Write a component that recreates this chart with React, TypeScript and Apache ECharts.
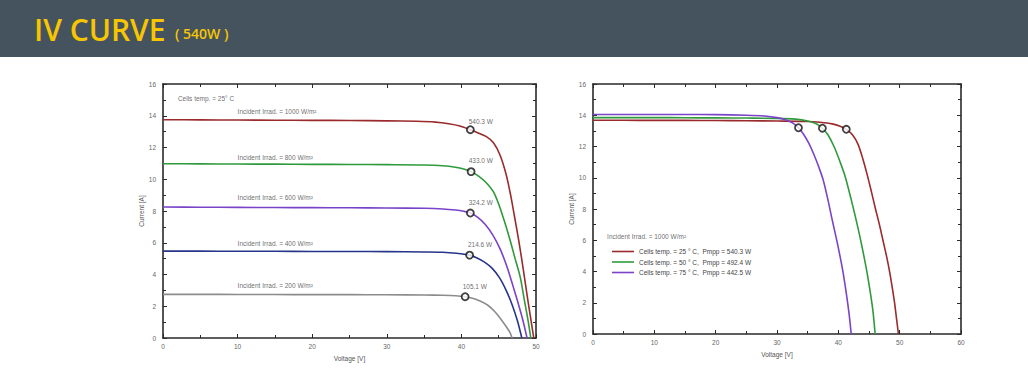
import React, { useEffect, useRef } from "react";
import * as echarts from "echarts";

// ---------- Left chart: Cells temp = 25 °C, varying irradiance ----------
const irr1000: number[][] = [
  [0, 13.75], [5, 13.74], [10, 13.73], [15, 13.72], [20, 13.71], [25, 13.7], [30, 13.68],
  [34, 13.65], [36.5, 13.6], [38.3, 13.5], [39.8, 13.36], [41.2, 13.12], [42.1, 12.95],
  [43.3, 12.7], [44.3, 12.3], [45.2, 11.5], [46.0, 10.3], [46.6, 9.0], [47.1, 7.7],
  [47.7, 6.1], [48.3, 4.3], [48.9, 2.4], [49.3, 1.2], [49.7, 0],
];
const irr800: number[][] = [
  [0, 10.98], [5, 10.97], [10, 10.96], [15, 10.95], [20, 10.94], [25, 10.93], [30, 10.92],
  [35, 10.9], [37.5, 10.85], [39.2, 10.76], [40.3, 10.65], [41.3, 10.48], [42.3, 10.2],
  [43.3, 9.8], [44.3, 9.2], [45.1, 8.3], [45.8, 7.3], [46.5, 6.2], [47.2, 5.0],
  [47.9, 3.8], [48.4, 2.5], [48.9, 1.2], [49.3, 0],
];
const irr600: number[][] = [
  [0, 8.25], [5, 8.24], [10, 8.23], [15, 8.22], [20, 8.21], [25, 8.2], [30, 8.19],
  [35, 8.17], [37.5, 8.13], [39.2, 8.06], [40.3, 7.98], [41.2, 7.87], [42.2, 7.6],
  [43.2, 7.15], [44.2, 6.5], [45.2, 5.6], [46.1, 4.5], [46.9, 3.3], [47.6, 2.2],
  [48.2, 1.2], [48.8, 0],
];
const irr400: number[][] = [
  [0, 5.47], [5, 5.47], [10, 5.46], [15, 5.46], [20, 5.45], [25, 5.45], [30, 5.44],
  [35, 5.42], [37.5, 5.4], [39.3, 5.34], [41.1, 5.22], [42.1, 5.04], [43.1, 4.78],
  [44.1, 4.4], [45.1, 3.8], [46.0, 3.0], [46.8, 2.1], [47.5, 1.1], [48.1, 0],
];
const irr200: number[][] = [
  [0, 2.75], [5, 2.75], [10, 2.74], [15, 2.74], [20, 2.73], [25, 2.73], [30, 2.72],
  [35, 2.71], [37.5, 2.69], [39.2, 2.66], [40.5, 2.6], [41.5, 2.5], [42.5, 2.33],
  [43.5, 2.08], [44.4, 1.7], [45.2, 1.25], [46.0, 0.72], [46.5, 0.35], [46.8, 0],
];
const leftMppPoints: number[][] = [
  [41.2, 13.12], [41.3, 10.48], [41.2, 7.87], [41.1, 5.22], [40.5, 2.6],
];
const leftPowerLabels: string[] = ["540.3 W", "433.0 W", "324.2 W", "214.6 W", "105.1 W"];
const leftPowerLabelPos: number[][] = [
  [42.6, 13.62], [42.6, 11.15], [42.6, 8.52], [42.5, 5.88], [41.8, 3.22],
];
const leftIrrLabels: string[] = [
  "Incident Irrad. = 1000 W/m²", "Incident Irrad. = 800 W/m²", "Incident Irrad. = 600 W/m²",
  "Incident Irrad. = 400 W/m²", "Incident Irrad. = 200 W/m²",
];
const leftIrrLabelPos: number[][] = [
  [10.0, 14.24], [10.0, 11.34], [10.0, 8.82], [10.0, 5.98], [10.0, 3.28],
];
const leftTempLabel = "Cells temp. = 25° C";
const leftTempLabelPos: number[] = [2.0, 15.1];

// ---------- Right chart: Irradiance 1000 W/m², varying temperature ----------
const temp25: number[][] = [
  [0, 13.68], [5, 13.68], [10, 13.67], [15, 13.67], [20, 13.66], [25, 13.65], [30, 13.63],
  [35, 13.6], [37, 13.55], [39, 13.45], [40.3, 13.3], [41.3, 13.1], [42.3, 12.75],
  [43.2, 12.15], [44.0, 11.2], [44.7, 10.2], [45.4, 9.1], [46.0, 8.1], [46.7, 7.0],
  [47.3, 5.95], [47.9, 4.9], [48.4, 3.9], [48.8, 2.95], [49.15, 2.05], [49.45, 1.1], [49.8, 0],
];
const temp50: number[][] = [
  [0, 13.85], [5, 13.85], [10, 13.85], [15, 13.84], [20, 13.83], [25, 13.82], [30, 13.8],
  [33, 13.75], [35, 13.63], [36.4, 13.45], [37.4, 13.17], [38.3, 12.75], [39.3, 12.0],
  [40.2, 11.1], [41.1, 10.1], [42.1, 8.6], [42.9, 7.3], [43.8, 5.7], [44.6, 4.1],
  [45.2, 2.7], [45.65, 1.45], [46.0, 0],
];
const temp75: number[][] = [
  [0, 14.05], [5, 14.05], [10, 14.05], [15, 14.05], [20, 14.04], [25, 14.0], [28, 13.95],
  [30, 13.85], [31.5, 13.7], [32.6, 13.5], [33.5, 13.2], [34.3, 12.8], [35.2, 12.2],
  [36.0, 11.5], [36.8, 10.7], [37.5, 9.9], [38.3, 8.6], [39.0, 7.3], [39.9, 5.7],
  [40.7, 4.1], [41.3, 2.6], [41.75, 1.3], [42.1, 0],
];
const rightMppPoints: number[][] = [[41.3, 13.1], [37.4, 13.17], [33.5, 13.2]];
const rightSeriesNames: string[] = [
  "Cells temp. = 25 ° C,  Pmpp = 540.3 W",
  "Cells temp. = 50 ° C,  Pmpp = 492.4 W",
  "Cells temp. = 75 ° C,  Pmpp = 442.5 W",
];
const rightIrrLabel = "Incident Irrad. = 1000 W/m²";
const rightIrrLabelPos: number[] = [2.3, 6.27];

const titleMain = "IV CURVE";
const titleSub = "( 540W )";

const C_RED = "#9a2a2c";
const C_GREEN = "#2f9a3c";
const C_PURPLE = "#7a44c8";
const C_BLUE = "#27358a";
const C_GRAY = "#8c8c8c";
const AX = "#2a2a2a";
const FONT = "Liberation Sans";
const SMALL = 6.5;

function axisPair(gridIndex: number, max: number, kind: "x" | "y", name: string, nameGap: number) {
  const common = {
    gridIndex,
    type: "value",
    min: 0,
    max,
    interval: kind === "x" ? 10 : 2,
    splitLine: { show: false },
    axisLine: { show: true, onZero: false, lineStyle: { color: AX, width: 1.6 } },
    axisTick: { show: true, inside: true, length: 4, lineStyle: { color: AX, width: 1 } },
    minorTick: { show: true, splitNumber: 2, length: 3, lineStyle: { color: AX, width: 1 } },
  };
  const main = {
    ...common,
    position: kind === "x" ? "bottom" : "left",
    axisLabel: { fontSize: SMALL, color: "#666", fontFamily: FONT, margin: kind === "x" ? 5 : 7 },
    name,
    nameLocation: "middle",
    nameGap,
    nameTextStyle: { fontSize: SMALL, color: "#555", fontFamily: FONT },
  };
  const mirror = {
    ...common,
    position: kind === "x" ? "top" : "right",
    axisLabel: { show: false },
  };
  return [main, mirror];
}

function lineSeries(name: string, data: number[][], color: string, xi: number, yi: number) {
  return {
    type: "line",
    name,
    data,
    xAxisIndex: xi,
    yAxisIndex: yi,
    smooth: 0.3,
    symbol: "none",
    showSymbol: false,
    lineStyle: { color, width: 1.6 },
    itemStyle: { color },
    z: 3,
  };
}

function textSeries(items: { name: string; value: number[] }[], xi: number, yi: number, align: string) {
  return {
    type: "scatter",
    xAxisIndex: xi,
    yAxisIndex: yi,
    symbolSize: 0,
    silent: true,
    data: items,
    label: {
      show: true,
      position: "inside",
      formatter: "{b}",
      fontSize: SMALL,
      color: "#444",
      fontFamily: FONT,
      align,
      verticalAlign: "middle",
    },
    z: 5,
  };
}

function mppSeries(data: number[][], xi: number, yi: number) {
  return {
    type: "scatter",
    xAxisIndex: xi,
    yAxisIndex: yi,
    data,
    symbol: "circle",
    symbolSize: 7,
    itemStyle: { color: "#ffffff", borderColor: "#111", borderWidth: 1.8 },
    z: 6,
  };
}

export default function App() {
  const ref = useRef<HTMLDivElement>(null);
  useEffect(() => {
    if (!ref.current) return;
    const chart = echarts.init(ref.current, null, { renderer: "svg" });
    const [lx, lx2] = axisPair(0, 50, "x", "Voltage [V]", 14);
    const [ly, ly2] = axisPair(0, 16, "y", "Current [A]", 18);
    const [rx, rx2] = axisPair(1, 60, "x", "Voltage [V]", 14);
    const [ry, ry2] = axisPair(1, 16, "y", "Current [A]", 18);

    const option: any = {
      animation: false,
      backgroundColor: "#ffffff",
      grid: [
        { left: 163, top: 84, width: 373, height: 254 },
        { left: 593, top: 84, width: 368, height: 250 },
      ],
      xAxis: [lx, lx2, rx, rx2],
      yAxis: [ly, ly2, ry, ry2],
      legend: {
        show: true,
        left: 607,
        top: 243,
        orient: "vertical",
        icon: "rect",
        itemWidth: 22,
        itemHeight: 1.6,
        itemGap: 3.5,
        data: rightSeriesNames,
        textStyle: { fontSize: SMALL, color: "#444", fontFamily: FONT },
        selectedMode: false,
      },
      graphic: [
        { type: "rect", shape: { x: 0, y: 0, width: 1028, height: 57 }, style: { fill: "#45535e" } },
        {
          type: "text", x: 34, y: 29,
          style: { text: titleMain, fill: "#f7c600", font: '600 30px "Open Sans"', verticalAlign: "middle" },
        },
        {
          type: "text", x: 175, y: 33,
          style: { text: titleSub, fill: "#f7c600", font: '600 14px "Open Sans"', verticalAlign: "middle" },
        },
      ],
      series: [
        lineSeries("1000", irr1000, C_RED, 0, 0),
        lineSeries("800", irr800, C_GREEN, 0, 0),
        lineSeries("600", irr600, C_PURPLE, 0, 0),
        lineSeries("400", irr400, C_BLUE, 0, 0),
        lineSeries("200", irr200, C_GRAY, 0, 0),
        mppSeries(leftMppPoints, 0, 0),
        textSeries(leftPowerLabels.map((t, i) => ({ name: t, value: leftPowerLabelPos[i] })), 0, 0, "center"),
        textSeries(leftIrrLabels.map((t, i) => ({ name: t, value: leftIrrLabelPos[i] })), 0, 0, "left"),
        textSeries([{ name: leftTempLabel, value: leftTempLabelPos }], 0, 0, "left"),
        lineSeries(rightSeriesNames[0], temp25, C_RED, 2, 2),
        lineSeries(rightSeriesNames[1], temp50, C_GREEN, 2, 2),
        lineSeries(rightSeriesNames[2], temp75, C_PURPLE, 2, 2),
        mppSeries(rightMppPoints, 2, 2),
        textSeries([{ name: rightIrrLabel, value: rightIrrLabelPos }], 2, 2, "left"),
      ],
    };
    chart.setOption(option);
    return () => chart.dispose();
  }, []);
  return (
    <div
      ref={ref}
      style={{ position: "absolute", left: 0, top: 0, width: 1028, height: 370 }}
    />
  );
}
